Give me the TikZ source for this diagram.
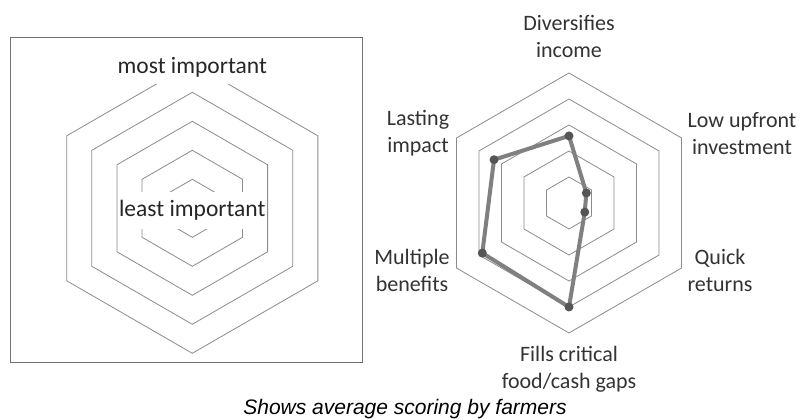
\documentclass[tikz,border=0pt]{standalone}
\usepackage{fontspec}
\setmainfont{Carlito}
\newfontfamily\capfont{Liberation Sans}
\usepackage{tikz}

\definecolor{hexgray}{RGB}{140,140,140}
\definecolor{linegray}{RGB}{128,128,128}
\definecolor{dotgray}{RGB}{85,85,85}

\begin{document}
\begin{tikzpicture}[x=1pt,y=-1pt]
	\tikzstyle{grid}=[draw=hexgray, line width=0.8pt]
	\tikzstyle{frame}=[draw=hexgray!80!black, line width=0.8pt]
	\tikzstyle{lbl}=[align=center, font=\fontsize{22}{27}\selectfont, text=black!80]
	\tikzstyle{big}=[font=\fontsize{23.5}{28}\selectfont, text=black!85, fill=white, inner xsep=0pt]
	\tikzstyle{data}=[draw=linegray, line width=4pt, line join=round]
	\tikzstyle{dot}=[fill=dotgray]

	\useasboundingbox (0,0) rectangle (801,419);
	\fill[white] (0,0) rectangle (801,419);

	% left panel: scale explanation
	\coordinate (lc) at (192.3,208.3);
	\draw[frame] (10,37) rectangle (362,362);
	\foreach \r in {29,58,87,116,145}
	\draw[grid, shift={(lc)}] (-90:\r) -- (-30:\r) -- (30:\r) -- (90:\r) -- (150:\r) -- (210:\r) -- cycle;
	\node[big, minimum height=33pt] (most) at (192.3,67.5) {most important};
	\node[big, minimum height=37pt] (least) at (192.3,210.5) {least important};

	% right panel: radar chart
	\coordinate (rc) at (569,203);
	\foreach \r in {26,52,78,104,130}
	\draw[grid, shift={(rc)}] (-90:\r) -- (-30:\r) -- (30:\r) -- (90:\r) -- (150:\r) -- (210:\r) -- cycle;

	\begin{scope}[shift={(rc)}]
		\foreach \a/\v/\n in {-90/2.58/p1, -30/0.77/p2, 30/0.7/p3, 90/4.0/p4, 150/3.85/p5, 210/3.33/p6}
		\coordinate (\n) at (\a:26*\v);
	\end{scope}
	\draw[data] (p1) -- (p2) -- (p3) -- (p4) -- (p5) -- (p6) -- cycle;
	\foreach \n in {p1,p2,p3,p4,p5,p6}
	\fill[dot] (\n) circle (4.5);

	\node[lbl] (income) at (569,36.5) {Diversifies\\income};
	\node[lbl] (upfront) at (742,133.5) {Low upfront\\investment};
	\node[lbl] (quick) at (720,270) {Quick\\returns};
	\node[lbl] (gaps) at (569,369) {Fills critical\\food/cash gaps};
	\node[lbl] (benefits) at (412,270) {Multiple\\benefits};
	\node[lbl] (impact) at (418,133.5) {Lasting\\impact};

	\node[font=\capfont\itshape\fontsize{21}{25}\selectfont, anchor=base] (caption) at (405,415) {Shows average scoring by farmers};
\end{tikzpicture}
\end{document}
